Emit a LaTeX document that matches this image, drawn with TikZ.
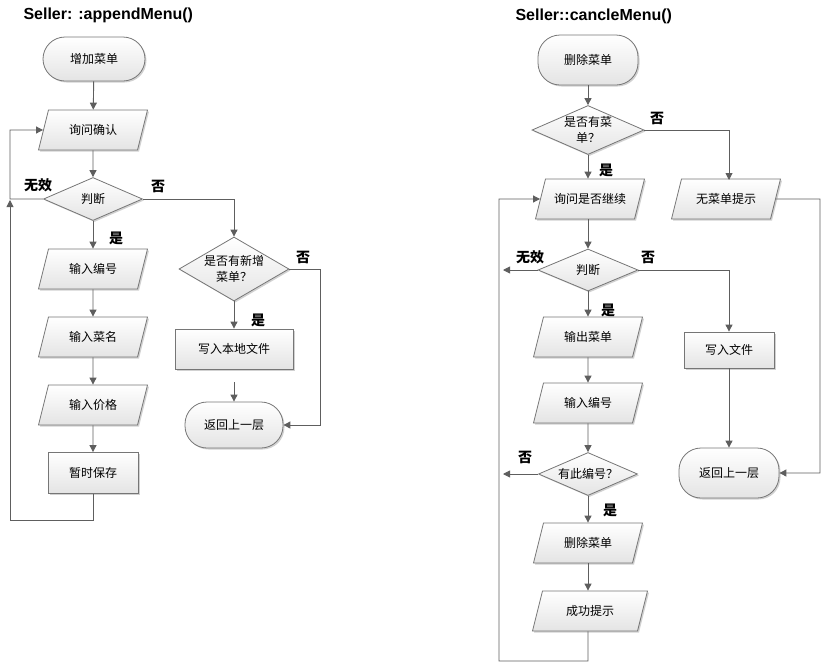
\documentclass[tikz,border=0pt]{standalone}
\usepackage{fontspec}
\setmainfont{Noto Sans CJK SC}
\newfontfamily\titlefont{Liberation Sans}
\usetikzlibrary{arrows.meta, shapes.geometric, shadows}

\definecolor{linegray}{HTML}{5E5E5E}
\definecolor{boxgray}{HTML}{767676}
\definecolor{fillgray}{HTML}{E4E4E4}

\begin{document}
\begin{tikzpicture}[
        x=1pt, y=-1pt,
        every node/.style={color=black, font=\fontsize{12}{16}\selectfont},
        box/.style={draw=boxgray, line width=0.8pt, top color=white, bottom color=fillgray,
            drop shadow={shadow xshift=1.5pt, shadow yshift=-1.5pt, opacity=0.18, fill=black}},
        term/.style={box, rectangle, rounded corners=22pt, minimum width=100, minimum height=46, inner sep=0pt},
        proc/.style={box, rectangle, minimum width=90, minimum height=40, inner sep=0pt},
        io/.style={box, trapezium, trapezium left angle=76, trapezium right angle=104,
            trapezium stretches body, minimum width=109, text height=12pt, text depth=4pt,
            inner xsep=1pt, inner ysep=12pt},
        decide/.style={box, diamond, minimum width=99, minimum height=43, inner sep=0pt, shape aspect=2.3, align=center},
        plain line/.style={draw=linegray, line width=0.9pt},
        pile/.style={plain line, -{Triangle[length=7pt, width=7pt]}},
        yes/.style={font=\fontsize{14}{14}\selectfont\bfseries},
        title/.style={anchor=west, font=\titlefont\fontsize{16}{16}\selectfont\bfseries}
    ]
    \useasboundingbox (0,0) rectangle (828,670);

    %% Seller: :appendMenu()
    \draw (20,15) node(t1)[title]{Seller: :appendMenu()};

    \draw (94,59) node(start)[term, minimum width=102, minimum height=44]{增加菜单};
    \draw (93,130) node(ask)[io]{询问确认};
    \draw (93,199) node(judge)[decide]{判断};
    \draw (93,269) node(inno)[io]{输入编号};
    \draw (93,337) node(inname)[io]{输入菜名};
    \draw (93,405) node(inprice)[io]{输入价格};
    \draw (93,473) node(save)[proc, minimum height=41]{暂时保存};

    \draw (234,269) node(hasnew)[decide, minimum width=110, minimum height=64, shape aspect=1.72]{是否有新增\\菜单？};
    \draw (234,349) node(write)[proc, minimum width=118]{写入本地文件};
    \draw (234,425) node(back)[term, minimum width=98]{返回上一层};

    \draw[pile] (start) -- (ask);
    \draw[pile] (ask) -- (judge);
    \draw[pile] (judge) -- (inno);
    \draw[pile] (inno) -- (inname);
    \draw[pile] (inname) -- (inprice);
    \draw[pile] (inprice) -- (save);
    \draw[pile] (save.south) -- (93,520) -- (10,520) -- (10,200);
    \draw[pile] (judge.west) -- (10,199) -- (10,130) -- (ask.west);
    \draw[pile] (judge.east) -| (hasnew.north);
    \draw[pile] (hasnew) -- (write);
    \draw[pile, shorten <=13pt] (write) -- (back);
    \draw[pile] (hasnew.east) -- (320,269) |- (back.east);

    \draw (38,185) node(l1)[yes]{无效};
    \draw (158,186) node(l2)[yes]{否};
    \draw (116,238) node(l3)[yes]{是};
    \draw (303,257) node(l4)[yes]{否};
    \draw (258,320) node(l5)[yes]{是};

    %% Seller::cancleMenu()
    \draw (512,16) node(t2)[title]{Seller::cancleMenu()};

    \draw (588,60) node(del)[term, minimum height=50]{删除菜单};
    \draw (588,130) node(hasmenu)[decide, minimum width=112, minimum height=49]{是否有菜\\单？};
    \draw (590,199) node(askgo)[io]{询问是否继续};
    \draw (726,199) node(nomenu)[io]{无菜单提示};
    \draw (588,270) node(judge2)[decide, minimum width=100, minimum height=42]{判断};
    \draw (588,337) node(outmenu)[io]{输出菜单};
    \draw (588,403) node(inno2)[io]{输入编号};
    \draw (588,474) node(hasno)[decide]{有此编号？};
    \draw (588,543) node(delmenu)[io]{删除菜单};
    \draw (590,611) node(okmsg)[io, minimum width=115]{成功提示};
    \draw (729,350) node(writefile)[proc, minimum height=36]{写入文件};
    \draw (729,473) node(back2)[term, minimum height=50]{返回上一层};

    \draw[pile] (del) -- (hasmenu);
    \draw[pile] (hasmenu.south) -- (askgo.north -| hasmenu.south);
    \draw[pile] (askgo.south -| judge2.north) -- (judge2.north);
    \draw[pile] (judge2) -- (outmenu);
    \draw[pile] (outmenu) -- (inno2);
    \draw[pile] (inno2) -- (hasno);
    \draw[pile] (hasno) -- (delmenu);
    \draw[pile] (delmenu.south) -- (okmsg.north -| delmenu.south);
    \draw[pile] (okmsg.south -| delmenu.south) -- (588,661) -- (499,661) -- (499,199) -- (askgo.west);
    \draw[pile] (hasmenu.east) -| (729,180);
    \draw[pile] (judge2.west) -- (503,270);
    \draw[pile] (hasno.west) -- (503,474);
    \draw[pile] (judge2.east) -| (writefile.north);
    \draw[pile] (writefile) -- (back2);
    \draw[pile] (nomenu.east) -- (820,199) |- (back2.east);

    \draw (657,118) node(r1)[yes]{否};
    \draw (606,170) node(r2)[yes]{是};
    \draw (530,257) node(r3)[yes]{无效};
    \draw (648,257) node(r4)[yes]{否};
    \draw (608,310) node(r5)[yes]{是};
    \draw (525,457) node(r6)[yes]{否};
    \draw (610,510) node(r7)[yes]{是};
\end{tikzpicture}
\end{document}
